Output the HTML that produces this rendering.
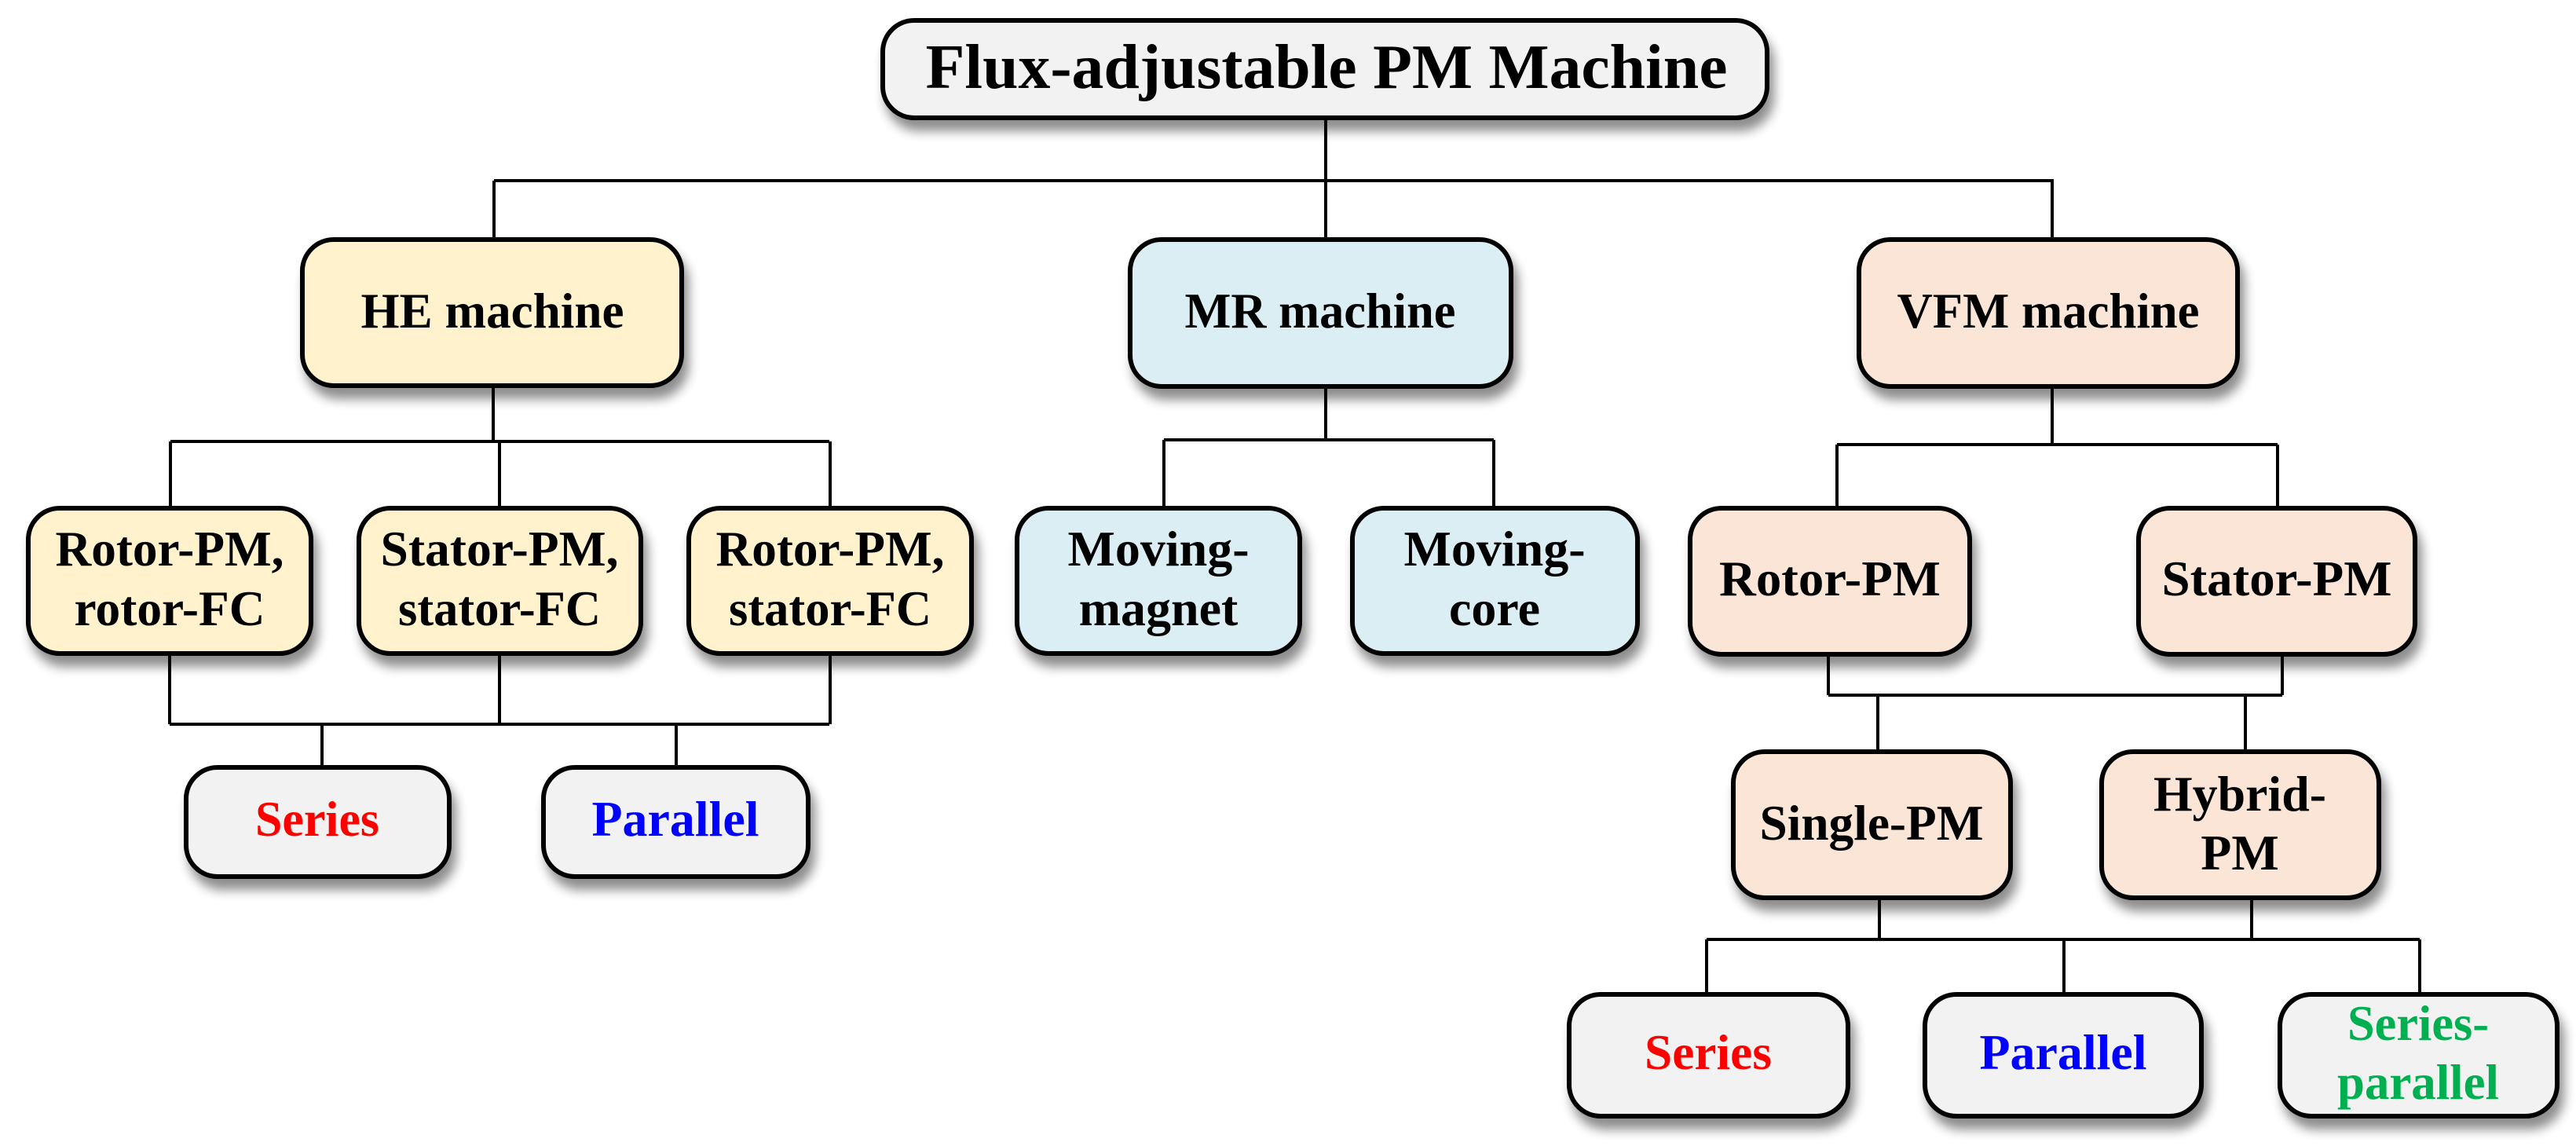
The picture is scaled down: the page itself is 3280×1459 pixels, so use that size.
<!DOCTYPE html>
<html><head><meta charset="utf-8"><style>
html,body{margin:0;padding:0;background:#fff;}
svg{display:block;}
text{font-family:"Liberation Serif",serif;font-weight:bold;font-size:64px;text-anchor:middle;}
</style></head><body>
<svg width="3280" height="1459" viewBox="0 0 3280 1459" xmlns="http://www.w3.org/2000/svg">
<defs>
<filter id="sh" x="-10%" y="-10%" width="130%" height="140%">
<feGaussianBlur in="SourceAlpha" stdDeviation="7"/>
<feOffset dx="6" dy="14" result="b"/>
<feComponentTransfer><feFuncA type="linear" slope="0.45"/></feComponentTransfer>
<feMerge><feMergeNode/><feMergeNode in="SourceGraphic"/></feMerge>
</filter>
</defs>
<g stroke="#000" stroke-width="4" fill="none">
<!-- top -->
<path d="M1688 150V230M629 230H2615M629 230V305M1688 230V304M2613 230V304"/>
<!-- HE -->
<path d="M628 491V562M217 562H1056M217 562V647M636 562V647M1057 562V647"/>
<path d="M216 832V922M636 832V922M1057 832V922M216 922H1056M410 922V977M861 922V977"/>
<!-- MR -->
<path d="M1688 492V560M1482 560H1902M1482 560V647M1902 560V647"/>
<!-- VFM -->
<path d="M2613 492V566M2339 566H2900M2339 566V647M2900 566V647"/>
<path d="M2328 833V885M2906 833V885M2328 885H2906M2391 885V957M2859 885V957"/>
<path d="M2393 1143V1196M2867 1143V1196M2173 1196H3081M2173 1196V1266M2628 1196V1266M3081 1196V1266"/>
</g>
<g stroke="#000" stroke-width="6" filter="url(#sh)">
<rect x="1124" y="26" width="1126" height="124" rx="40" fill="#f2f2f2"/>
<rect x="385" y="305" width="483" height="186" rx="40" fill="#fff2cc"/>
<rect x="1439" y="305" width="485" height="187" rx="40" fill="#dbeef4"/>
<rect x="2367" y="305" width="482" height="187" rx="40" fill="#fbe5d6"/>
<rect x="36" y="647" width="360" height="185" rx="40" fill="#fff2cc"/>
<rect x="457" y="647" width="359" height="185" rx="40" fill="#fff2cc"/>
<rect x="877" y="647" width="360" height="185" rx="40" fill="#fff2cc"/>
<rect x="1295" y="647" width="360" height="185" rx="40" fill="#dbeef4"/>
<rect x="1722" y="647" width="363" height="185" rx="40" fill="#dbeef4"/>
<rect x="2152" y="647" width="356" height="186" rx="40" fill="#fbe5d6"/>
<rect x="2723" y="647" width="352" height="186" rx="40" fill="#fbe5d6"/>
<rect x="2207" y="957" width="353" height="186" rx="40" fill="#fbe5d6"/>
<rect x="2676" y="957" width="353" height="186" rx="40" fill="#fbe5d6"/>
<rect x="237" y="977" width="335" height="139" rx="40" fill="#f2f2f2"/>
<rect x="692" y="977" width="337" height="139" rx="40" fill="#f2f2f2"/>
<rect x="1998" y="1266" width="355" height="155" rx="40" fill="#f2f2f2"/>
<rect x="2451" y="1266" width="352" height="155" rx="40" fill="#f2f2f2"/>
<rect x="2903" y="1266" width="353" height="155" rx="40" fill="#f2f2f2"/>
</g>
<g fill="#000">
<text x="1689" y="112" style="font-size:80px" textLength="1021" lengthAdjust="spacingAndGlyphs">Flux-adjustable PM Machine</text>
<text x="627" y="417" textLength="335" lengthAdjust="spacingAndGlyphs">HE machine</text>
<text x="1681" y="417" textLength="345" lengthAdjust="spacingAndGlyphs">MR machine</text>
<text x="2608" y="417" textLength="385" lengthAdjust="spacingAndGlyphs">VFM machine</text>
<text x="216" y="720" textLength="291" lengthAdjust="spacingAndGlyphs">Rotor-PM,</text>
<text x="216" y="796" textLength="243" lengthAdjust="spacingAndGlyphs">rotor-FC</text>
<text x="636" y="720" textLength="303" lengthAdjust="spacingAndGlyphs">Stator-PM,</text>
<text x="636" y="796" textLength="258" lengthAdjust="spacingAndGlyphs">stator-FC</text>
<text x="1057" y="720" textLength="291" lengthAdjust="spacingAndGlyphs">Rotor-PM,</text>
<text x="1057" y="796" textLength="258" lengthAdjust="spacingAndGlyphs">stator-FC</text>
<text x="1475" y="720">Moving-</text>
<text x="1475" y="796">magnet</text>
<text x="1903" y="720">Moving-</text>
<text x="1903" y="796">core</text>
<text x="2330" y="758" textLength="282" lengthAdjust="spacingAndGlyphs">Rotor-PM</text>
<text x="2899" y="758" textLength="293" lengthAdjust="spacingAndGlyphs">Stator-PM</text>
<text x="2383" y="1069" textLength="285" lengthAdjust="spacingAndGlyphs">Single-PM</text>
<text x="2852" y="1032" textLength="220" lengthAdjust="spacingAndGlyphs">Hybrid-</text>
<text x="2852" y="1107">PM</text>
</g>
<text x="404" y="1064" fill="#ff0000" textLength="158" lengthAdjust="spacingAndGlyphs">Series</text>
<text x="860" y="1064" fill="#0000ff" textLength="213" lengthAdjust="spacingAndGlyphs">Parallel</text>
<text x="2175" y="1361" fill="#ff0000" textLength="162" lengthAdjust="spacingAndGlyphs">Series</text>
<text x="2627" y="1361" fill="#0000ff" textLength="213" lengthAdjust="spacingAndGlyphs">Parallel</text>
<text x="3079" y="1324" fill="#00b050" textLength="180" lengthAdjust="spacingAndGlyphs">Series-</text>
<text x="3079" y="1399" fill="#00b050" textLength="206" lengthAdjust="spacingAndGlyphs">parallel</text>
</svg>
</body></html>
